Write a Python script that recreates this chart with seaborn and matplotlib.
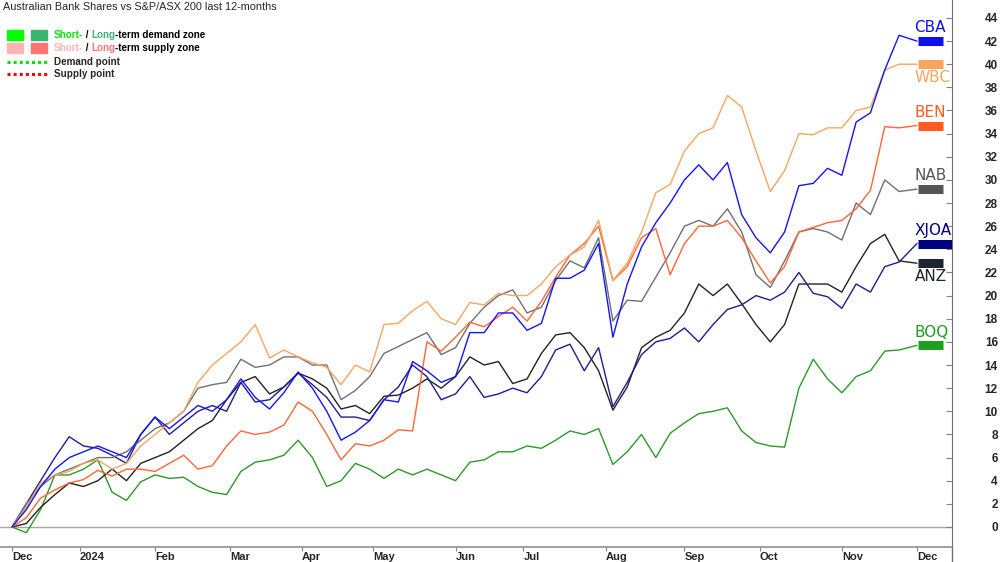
import numpy as np
import pandas as pd
import seaborn as sns
import matplotlib.pyplot as plt
from matplotlib.patches import Rectangle

sns.set_style("white")
plt.rcParams["font.family"] = ["Liberation Sans", "DejaVu Sans"]

# ASX trading days Dec-2023 .. Dec-2024, the x axis counts trading days
holidays = ["2023-12-25", "2023-12-26", "2024-01-01", "2024-01-26",
            "2024-03-29", "2024-04-01", "2024-04-25", "2024-06-10"]
days = pd.bdate_range("2023-12-01", "2024-12-02", freq="C", holidays=holidays)
month_labels = ["Dec", "2024", "Feb", "Mar", "Apr", "May", "Jun",
                "Jul", "Aug", "Sep", "Oct", "Nov", "Dec"]

# % change since start, every 4th trading day (last = final day)
cba = [0, 1.5, 3.5, 5.0, 6.0, 6.5, 7.0, 6.5, 6.0, 8.0,
       9.5, 8.5, 9.5, 10.5, 10.0, 11.0, 12.8, 11.2, 10.2, 11.6,
       13.4, 12.0, 10.0, 7.5, 8.2, 9.2, 11.0, 10.8, 14.3, 13.5,
       12.5, 13.0, 16.8, 16.8, 18.5, 18.5, 17.0, 17.6, 21.5, 21.5,
       22.2, 24.5, 16.4, 21.0, 24.2, 26.3, 28.0, 30.0, 31.3, 30.0,
       31.5, 27.0, 25.0, 23.7, 25.5, 29.5, 29.7, 31.0, 30.4, 35.0,
       35.8, 39.5, 42.5, 42.0]
wbc = [0, 1.7, 3.8, 4.5, 4.8, 5.5, 5.8, 5.0, 5.5, 7.0,
       8.0, 9.0, 10.0, 12.5, 14.0, 15.0, 16.0, 17.5, 14.6, 15.3,
       14.7, 14.2, 13.8, 12.3, 14.0, 13.4, 17.5, 17.6, 18.7, 19.5,
       18.0, 17.5, 19.4, 19.2, 20.2, 20.0, 20.0, 21.0, 22.5, 23.5,
       24.2, 26.5, 21.3, 22.8, 25.5, 28.9, 29.6, 32.5, 34.0, 34.5,
       37.3, 36.3, 32.5, 29.0, 30.8, 34.0, 33.9, 34.5, 34.5, 36.0,
       36.3, 39.5, 40.0, 40.0]
ben = [0, 0.8, 2.5, 3.2, 3.8, 4.1, 4.9, 4.4, 5.0, 5.0,
       4.8, 5.5, 6.2, 5.0, 5.3, 7.0, 8.3, 8.0, 8.2, 8.8,
       10.8, 10.0, 8.0, 5.8, 7.2, 7.0, 7.5, 8.4, 8.3, 16.0,
       15.2, 16.4, 17.7, 17.3, 18.2, 19.0, 17.8, 19.5, 21.6, 23.5,
       24.5, 26.0, 21.3, 22.5, 25.0, 25.8, 21.8, 24.5, 26.0, 26.0,
       26.5, 25.0, 23.0, 21.1, 22.5, 25.5, 25.9, 26.3, 26.5, 27.5,
       29.1, 34.6, 34.5, 34.7]
nab = [0, 2.0, 3.5, 4.5, 5.0, 5.5, 6.0, 6.0, 6.5, 7.5,
       8.5, 9.0, 10.0, 12.0, 12.3, 12.5, 14.5, 13.8, 14.0, 14.7,
       14.7, 14.0, 14.0, 11.0, 11.8, 13.0, 15.0, 15.6, 16.2, 16.8,
       14.9, 15.5, 17.6, 19.0, 20.0, 20.5, 18.5, 19.0, 21.3, 23.0,
       22.4, 25.0, 17.8, 19.6, 19.5, 21.6, 23.7, 26.0, 26.5, 26.0,
       27.5, 25.5, 21.8, 20.7, 23.0, 25.5, 25.8, 25.5, 24.8, 28.0,
       27.0, 30.0, 29.0, 29.2]
xjoa = [0, 2.0, 4.0, 6.0, 7.8, 7.0, 6.8, 6.2, 5.5, 8.0,
        9.5, 8.0, 9.0, 10.0, 10.5, 10.0, 12.5, 10.8, 11.0, 12.1,
        13.3, 12.3, 11.2, 9.5, 9.5, 9.2, 11.0, 12.1, 14.0, 13.0,
        11.0, 11.5, 13.0, 11.2, 11.5, 12.0, 11.6, 13.0, 15.3, 15.8,
        13.5, 15.5, 10.4, 12.5, 14.9, 16.0, 16.3, 17.2, 16.0, 17.5,
        18.8, 19.2, 20.0, 19.6, 20.3, 22.0, 20.2, 19.9, 18.9, 21.0,
        20.3, 22.5, 22.9, 24.5]
anz = [0, 0.3, 1.7, 2.8, 3.8, 3.5, 4.0, 5.0, 4.0, 5.5,
       6.0, 6.5, 7.5, 8.5, 9.2, 11.0, 12.5, 13.0, 11.5, 12.1,
       13.3, 12.8, 12.0, 10.2, 10.5, 9.8, 11.3, 11.4, 12.0, 12.8,
       12.0, 13.0, 14.7, 14.0, 14.3, 12.4, 12.8, 15.0, 16.6, 16.8,
       15.5, 13.5, 10.1, 12.1, 15.5, 16.4, 17.0, 18.5, 21.0, 20.0,
       21.0, 19.3, 17.5, 16.0, 17.5, 21.0, 21.0, 21.0, 20.3, 22.5,
       24.5, 25.3, 23.0, 22.8]
boq = [0, -0.5, 1.5, 4.5, 4.5, 5.0, 5.8, 3.0, 2.3, 3.9,
       4.5, 4.2, 4.3, 3.5, 3.0, 2.8, 4.8, 5.6, 5.8, 6.2,
       7.5, 6.0, 3.5, 4.0, 5.5, 5.0, 4.2, 5.0, 4.5, 5.0,
       4.5, 4.0, 5.6, 5.8, 6.5, 6.5, 7.0, 6.8, 7.5, 8.3,
       8.0, 8.5, 5.4, 6.5, 8.0, 6.0, 8.1, 9.0, 9.8, 10.0,
       10.3, 8.3, 7.3, 7.0, 6.9, 12.0, 14.5, 12.8, 11.6, 13.0,
       13.5, 15.2, 15.3, 15.7]

tickers = ["BOQ", "ANZ", "XJOA", "NAB", "BEN", "WBC", "CBA"]
values = {"CBA": cba, "WBC": wbc, "BEN": ben, "NAB": nab,
          "XJOA": xjoa, "ANZ": anz, "BOQ": boq}
line_colors = {"CBA": "#1414f5", "WBC": "#f7a560", "BEN": "#ff6633", "NAB": "#707070",
               "XJOA": "#1e1e8c", "ANZ": "#222222", "BOQ": "#2a9a2a"}
tag_colors = {"CBA": "#1010ee", "WBC": "#f6a55e", "BEN": "#ff5a1f", "NAB": "#555555",
              "XJOA": "#000080", "ANZ": "#1e2433", "BOQ": "#1f9e1f"}
tag_side = {"CBA": 1, "WBC": -1, "BEN": 1, "NAB": 1, "XJOA": 1, "ANZ": -1, "BOQ": 1}

sample_days = np.r_[np.arange(0, 252, 4), len(days) - 1]
rows = []
for t in tickers:
    for d, v in zip(sample_days, values[t]):
        rows.append({"day": d, "ticker": t, "pct": v})
df = pd.DataFrame(rows)

fig = plt.figure(figsize=(10, 5.62), dpi=100)
ax = fig.add_axes([0, 15 / 562, 0.952, 547 / 562])

ax.axhline(0, color="#a8a8a8", lw=1, zorder=0)
sns.lineplot(data=df, x="day", y="pct", hue="ticker", hue_order=tickers,
             palette=line_colors, linewidth=1.0, legend=False, estimator=None, ax=ax)

last_day = len(days) - 1
for t in tickers:
    v = values[t][-1]
    end = 262.8 if t == "XJOA" else 260.3
    ax.plot([last_day + 0.3, end], [v, v], color=tag_colors[t], lw=6.5,
            solid_capstyle="butt", clip_on=False)
    ax.annotate(t, (last_day - 0.7, v), xytext=(0, 9.5 * tag_side[t]),
                textcoords="offset points", ha="left", va="center",
                color=tag_colors[t], fontsize=11, family="DejaVu Sans")

ax.set_xlim(-3.35, 262.8)
ax.set_ylim(-1.73, 45.55)

# ticks at the first trading day of each month
month_start = pd.Series(np.arange(len(days)), index=days).groupby(days.to_period("M")).first()
ax.set_xticks(month_start.values)
ax.set_xticklabels(month_labels, ha="left", fontweight="bold", fontsize=8)
ax.tick_params(axis="x", bottom=True, direction="out", length=3, color="#808080", pad=0.5)

ax.yaxis.tick_right()
yt = list(range(0, 45, 2))
ax.set_yticks(yt)
ax.set_yticklabels([str(v) for v in yt], ha="right", fontweight="bold", fontsize=8.5)
ax.tick_params(axis="y", right=True, left=False, direction="in", length=4,
               color="#808080", pad=33)

ax.set_xlabel("")
ax.set_ylabel("")
ax.spines["left"].set_visible(False)
ax.spines["top"].set_visible(False)
ax.spines["right"].set_color("#707070")
ax.spines["bottom"].set_color("#909090")
ax.spines["bottom"].set_linewidth(1.2)

# title and legend drawn on a pixel overlay
lax = fig.add_axes([0, 0, 1, 1])
lax.set_xlim(0, 1000)
lax.set_ylim(562, 0)
lax.axis("off")
lax.plot([952, 952], [547, 562], color="#707070", lw=1)

lax.text(3, 7, "Australian Bank Shares vs S&P/ASX 200 last 12-months",
         fontsize=7.8, va="center")

lax.add_patch(Rectangle((7, 30), 16, 10, color="#00ff00"))
lax.add_patch(Rectangle((31, 30), 16, 10, color="#3cb371"))
lax.add_patch(Rectangle((7, 43), 16, 10, color="#ffb3b3"))
lax.add_patch(Rectangle((31, 43), 16, 10, color="#ff7373"))
lax.plot([7, 48], [62, 62], color="#00e600", lw=2.2, ls=(0, (1, 1)))
lax.plot([7, 48], [74, 74], color="#ff0000", lw=2.2, ls=(0, (1, 1)))


def rainbow(x, y, parts):
    t = lax.text(x, y, parts[0][0], color=parts[0][1], fontsize=7.1,
                 fontweight="bold", va="center")
    for s, c in parts[1:]:
        t = lax.annotate(s, xycoords=t, xy=(1, 0), va="bottom", color=c,
                         fontsize=7.1, fontweight="bold")


rainbow(54, 35, [("Short-", "#00e600"), (" / ", "black"), ("Long", "#3cb371"),
                 ("-term demand zone", "black")])
rainbow(54, 48, [("Short-", "#ffb3b3"), (" / ", "black"), ("Long", "#ff7373"),
                 ("-term supply zone", "black")])
lax.text(54, 62, "Demand point", fontsize=7.1, fontweight="bold", va="center")
lax.text(54, 74, "Supply point", fontsize=7.1, fontweight="bold", va="center")

fig.savefig("out.png", dpi=100)
